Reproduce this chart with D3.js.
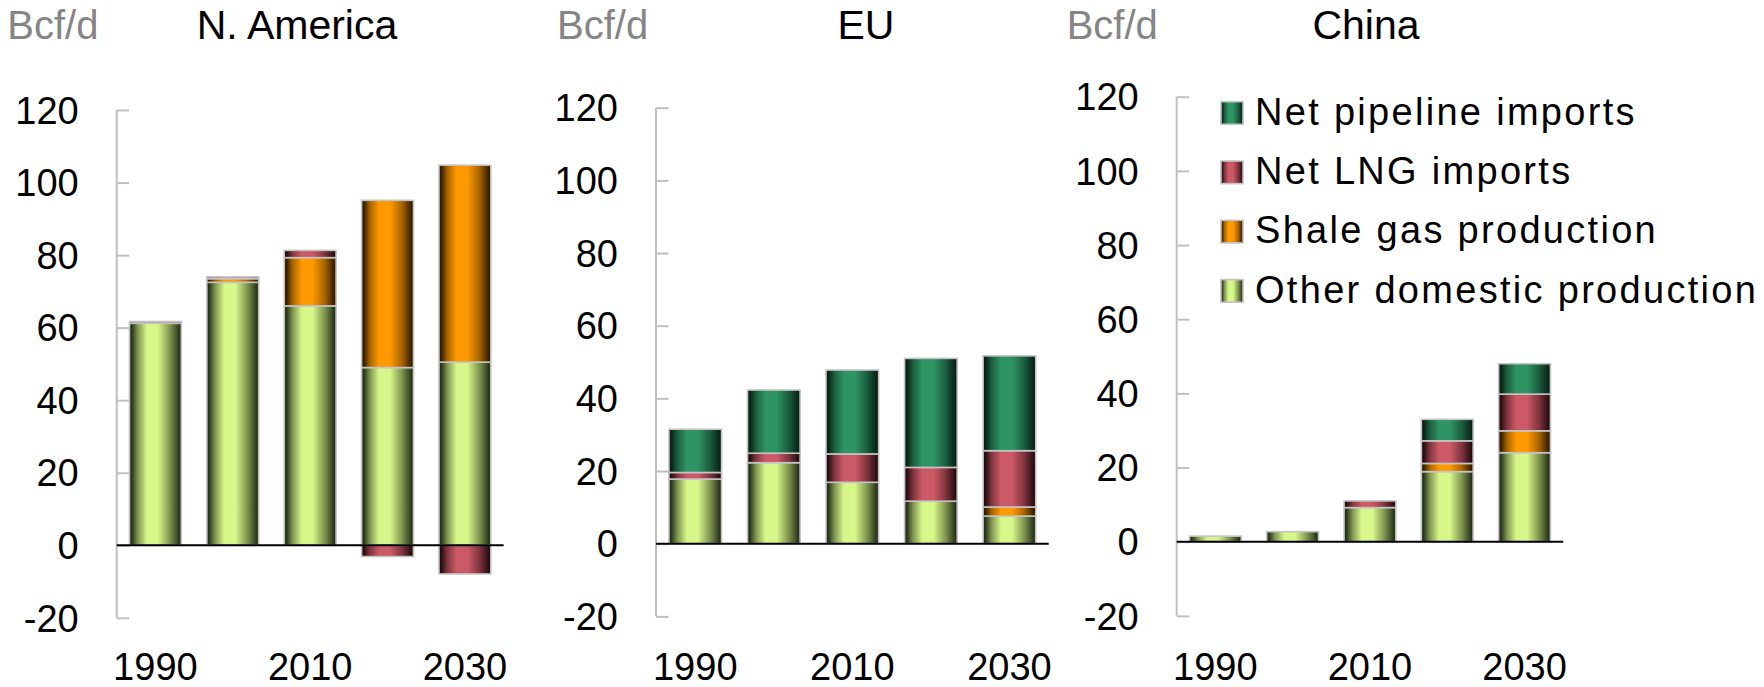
<!DOCTYPE html>
<html>
<head>
<meta charset="utf-8">
<script src="https://cdn.jsdelivr.net/npm/d3@7"></script>
<style>
  html, body { margin: 0; padding: 0; background: #ffffff; }
  svg { display: block; }
  text { font-family: "Liberation Sans", Arial, Helvetica, sans-serif; }
</style>
</head>
<body>
<svg id="chart" width="1764" height="687"></svg>
<script>
// ---------- DATA ----------
const years = ["1990", "2000", "2010", "2020", "2030"];
const xTickLabels = ["1990", "2010", "2030"];
const yTicks = [-20, 0, 20, 40, 60, 80, 100, 120];
const seriesNames = ["Other domestic production", "Shale gas production", "Net LNG imports", "Net pipeline imports"];
const legendOrder = ["Net pipeline imports", "Net LNG imports", "Shale gas production", "Other domestic production"];
const panelTitles = ["N. America", "EU", "China"];
const unitLabel = "Bcf/d";

// N. America
const naOther    = [61.2, 72.5, 66.0, 49.0, 50.5];
const naShale    = [0,    1.0,  13.3, 46.1, 54.3];
const naLNG      = [0.5,  0.5,  2.0,  -3.1, -7.9];
const naPipeline = [0,    0,    0,    0,    0];
// EU
const euOther    = [17.8, 22.3, 16.9, 11.7, 7.6];
const euShale    = [0,    0,    0,    0,    2.5];
const euLNG      = [1.8,  2.6,  7.8,  9.3,  15.5];
const euPipeline = [11.9, 17.4, 23.1, 30.0, 26.1];
// China
const cnOther    = [1.5,  2.7,  9.2,  18.9, 24.0];
const cnShale    = [0,    0,    0,    2.2,  5.9];
const cnLNG      = [0,    0,    1.8,  6.1,  9.9];
const cnPipeline = [0,    0,    0,    5.8,  8.2];

// ---------- STYLE ----------
const colors = {
  "Other domestic production": { dark: "#27321a", mid: "#7f9450", light: "#d8f78a" },
  "Shale gas production":      { dark: "#331c00", mid: "#a86400", light: "#ff9900" },
  "Net LNG imports":           { dark: "#250c10", mid: "#80343e", light: "#cc5a66" },
  "Net pipeline imports":      { dark: "#082216", mid: "#1c5e3f", light: "#2f9464" }
};
const keyId = k => "g" + seriesNames.indexOf(k);

const panels = [
  { title: panelTitles[0], other: naOther, shale: naShale, lng: naLNG, pipe: naPipeline,
    x0: 116.7, x1: 503.6, yTop: 110.0, yZero: 545.3, titleX: 297, unitX: 7.3 },
  { title: panelTitles[1], other: euOther, shale: euShale, lng: euLNG, pipe: euPipeline,
    x0: 656.0, x1: 1048.7, yTop: 107.7, yZero: 543.7, titleX: 866, unitX: 557 },
  { title: panelTitles[2], other: cnOther, shale: cnShale, lng: cnLNG, pipe: cnPipeline,
    x0: 1176.7, x1: 1563.2, yTop: 96.7, yZero: 541.7, titleX: 1366, unitX: 1066.7 }
];

const svg = d3.select("#chart");
const defs = svg.append("defs");
seriesNames.forEach(k => {
  const c = colors[k];
  const g = defs.append("linearGradient").attr("id", keyId(k))
    .attr("x1", "0").attr("x2", "1").attr("y1", "0").attr("y2", "0");
  [[0, c.dark], [0.04, c.dark], [0.16, c.mid], [0.34, c.light], [0.55, c.light], [0.78, c.mid], [0.97, c.dark], [1, c.dark]]
    .forEach(([o, col]) => g.append("stop").attr("offset", o).attr("stop-color", col));
});

panels.forEach(p => {
  const rows = years.map((yr, i) => ({
    year: yr,
    "Other domestic production": p.other[i],
    "Shale gas production": p.shale[i],
    "Net LNG imports": p.lng[i],
    "Net pipeline imports": p.pipe[i]
  }));
  const x = d3.scaleBand().domain(years).range([p.x0, p.x1]).paddingInner(0.33).paddingOuter(0.165);
  const unitPx = (p.yZero - p.yTop) / 120;
  const y = d3.scaleLinear().domain([-20, 120]).range([p.yZero + 20 * unitPx, p.yTop]);

  const g = svg.append("g");

  // y axis
  const yAxis = d3.axisRight(y).tickValues(yTicks).tickSize(12.5).tickFormat("");
  const ya = g.append("g").attr("transform", `translate(${p.x0},0)`).call(yAxis);
  ya.select(".domain").attr("stroke", "#c0c0c0").attr("stroke-width", 2)
    .attr("d", `M0,${y(-20)}V${y(120)}`);
  ya.selectAll(".tick line").attr("stroke", "#c0c0c0").attr("stroke-width", 2);

  // y tick labels
  g.selectAll(".ylab").data(yTicks).join("text")
    .attr("x", p.x0 - 38).attr("y", d => y(d)).attr("dy", "0.36em")
    .attr("text-anchor", "end").attr("font-size", 38).attr("fill", "#000")
    .text(d => d);

  // stacked bars
  const stack = d3.stack().keys(seriesNames).offset(d3.stackOffsetDiverging);
  const layers = stack(rows);
  layers.forEach(layer => {
    g.append("g").selectAll("rect").data(layer.filter(d => d[1] !== d[0])).join("rect")
      .attr("x", d => x(d.data.year))
      .attr("width", x.bandwidth())
      .attr("y", d => y(Math.max(d[0], d[1])))
      .attr("height", d => Math.abs(y(d[0]) - y(d[1])))
      .attr("fill", `url(#${keyId(layer.key)})`)
      .attr("stroke", "#c4c4c4").attr("stroke-width", 1.6);
  });

  // zero line
  g.append("line").attr("x1", p.x0).attr("x2", p.x1).attr("y1", y(0)).attr("y2", y(0))
    .attr("stroke", "#000").attr("stroke-width", 2);

  // x labels
  g.selectAll(".xlab").data(xTickLabels).join("text")
    .attr("x", d => x(d) + x.bandwidth() / 2).attr("y", 680)
    .attr("text-anchor", "middle").attr("font-size", 38).attr("fill", "#000")
    .text(d => d);

  // titles
  g.append("text").attr("x", p.titleX).attr("y", 39).attr("text-anchor", "middle")
    .attr("font-size", 41).attr("fill", "#000").text(p.title);
  g.append("text").attr("x", p.unitX).attr("y", 39).attr("text-anchor", "start")
    .attr("font-size", 40).attr("fill", "#858585").text(unitLabel);
});

// legend
const lg = svg.append("g").attr("transform", "translate(1221,101.7)");
legendOrder.forEach((k, i) => {
  const row = lg.append("g").attr("transform", `translate(0,${i * 59.3})`);
  row.append("rect").attr("width", 22).attr("height", 22.6)
    .attr("fill", `url(#${keyId(k)})`).attr("stroke", "#c4c4c4").attr("stroke-width", 1.6);
  row.append("text").attr("x", 34).attr("y", 23).attr("font-size", 38)
    .attr("letter-spacing", 2.3).attr("fill", "#000").text(k);
});
</script>
</body>
</html>
